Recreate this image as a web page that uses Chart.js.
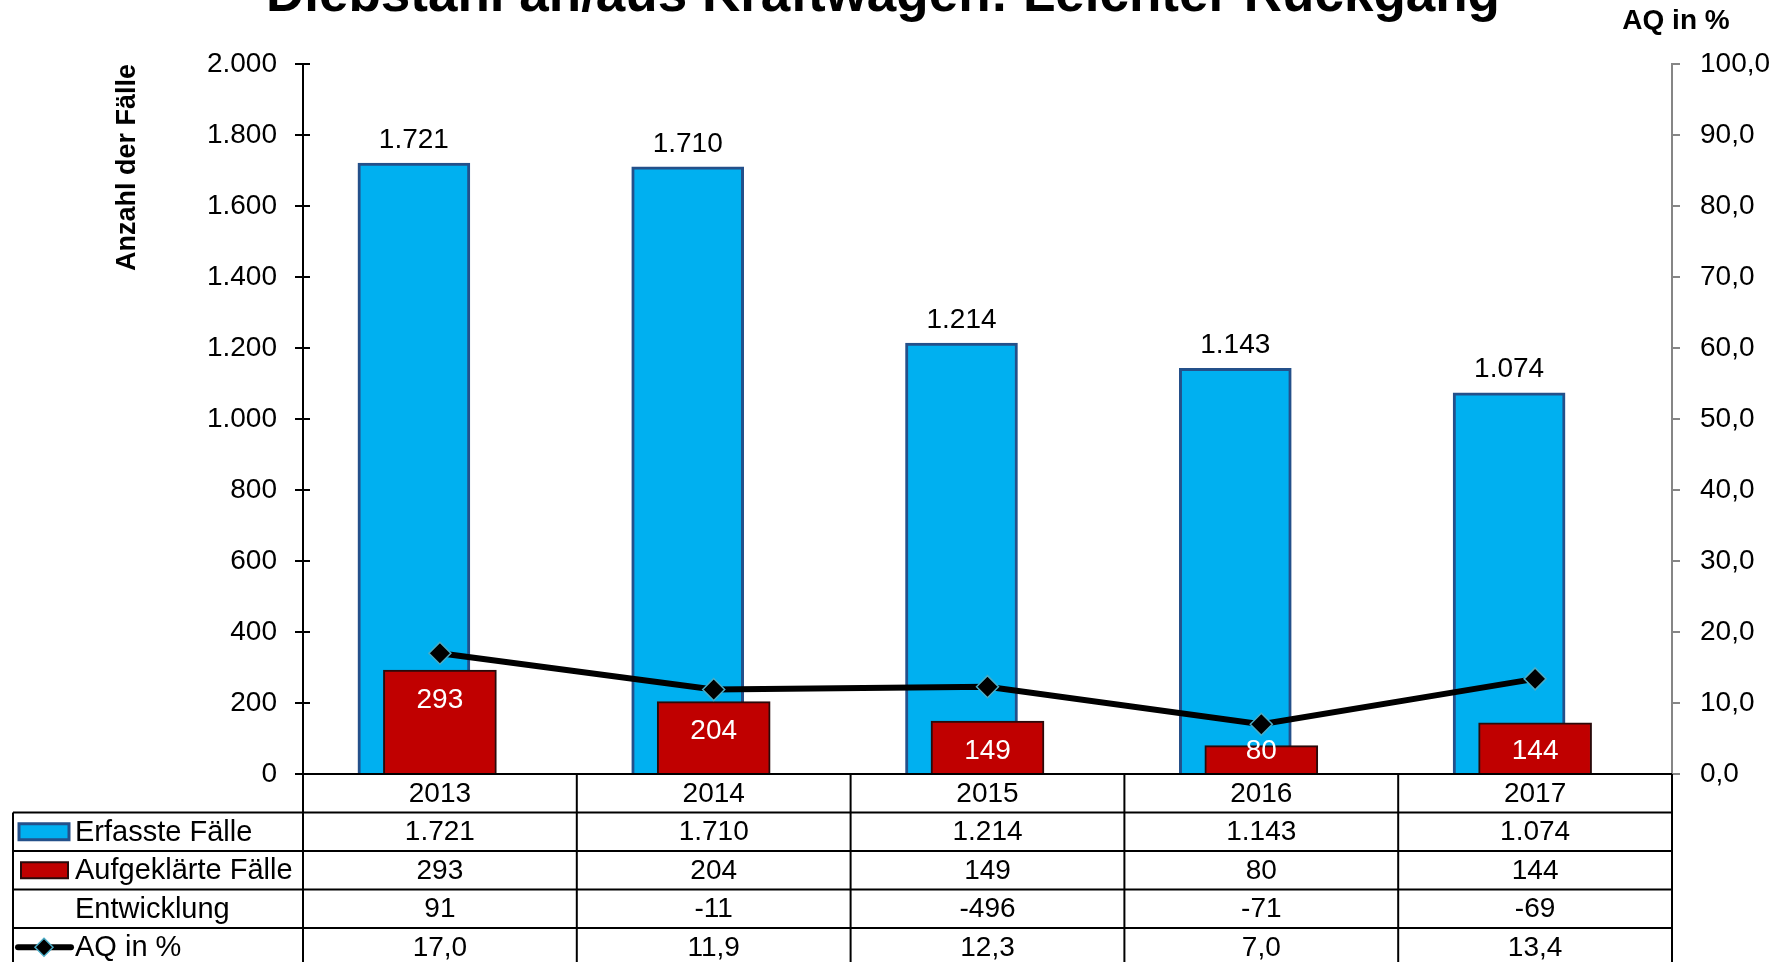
<!DOCTYPE html>
<html>
<head>
<meta charset="utf-8">
<script src="https://cdn.jsdelivr.net/npm/chart.js@4/dist/chart.umd.min.js"></script>
<style>
  html, body { margin: 0; padding: 0; background: #fff; overflow: hidden; }
  canvas { display: block; }
</style>
</head>
<body>
<canvas id="c" width="1787" height="962"></canvas>
<script>
// ---- data ----
const chartTitle = 'Diebstahl an/aus Kraftwagen: Leichter Rückgang';
const categories = ['2013', '2014', '2015', '2016', '2017'];
const erfassteFaelle = [1721, 1710, 1214, 1143, 1074];
const aufgeklaerteFaelle = [293, 204, 149, 80, 144];
const entwicklung = [91, -11, -496, -71, -69];
const aqProzent = [17.0, 11.9, 12.3, 7.0, 13.4];
const rowLabels = ['Erfasste Fälle', 'Aufgeklärte Fälle', 'Entwicklung', 'AQ in %'];
const leftAxisTitle = 'Anzahl der Fälle';
const rightAxisTitle = 'AQ in %';

// ---- helpers ----
const FONT = '"Liberation Sans", Arial, sans-serif';
function fmtInt(n) {
  const s = String(Math.abs(Math.round(n))).replace(/\B(?=(\d{3})+(?!\d))/g, '.');
  return (n < 0 ? '-' : '') + s;
}
function fmtPct(v) { return Number(v).toFixed(1).replace('.', ','); }

const BLUE = '#00B0F0', BLUE_EDGE = '#24508A';
const RED = '#C00000', RED_EDGE = '#2a0a0a';
const DIAMOND_EDGE = '#4BACC6';
// blue columns sit slightly left of the category centre (overlapped columns)
const BLUE_SHIFT = 0.095; // fraction of a category width

const textPlugin = {
  id: 'texts',
  afterDraw(chart) {
    const ctx = chart.ctx;
    ctx.save();
    ctx.fillStyle = '#000';
    ctx.textAlign = 'center';
    ctx.textBaseline = 'alphabetic';
    ctx.font = 'bold 53px ' + FONT;
    ctx.fillText(chartTitle, 883, 11);
    ctx.font = 'bold 28px ' + FONT;
    ctx.textBaseline = 'middle';
    ctx.fillText(rightAxisTitle, 1676, 21);
    ctx.restore();
  }
};

const labelPlugin = {
  id: 'barLabels',
  afterDatasetsDraw(chart) {
    const ctx = chart.ctx;
    ctx.save();
    ctx.font = '28px ' + FONT;
    ctx.textAlign = 'center';
    ctx.textBaseline = 'middle';
    const mb = chart.getDatasetMeta(0);
    mb.data.forEach((el, i) => {
      ctx.fillStyle = '#000';
      ctx.fillText(fmtInt(erfassteFaelle[i]), el.x, el.y - 23);
    });
    const mr = chart.getDatasetMeta(1);
    mr.data.forEach((el, i) => {
      ctx.fillStyle = '#fff';
      const y = Math.min(el.y + 30, el.base - 22);
      ctx.fillText(fmtInt(aufgeklaerteFaelle[i]), el.x, y);
    });
    ctx.restore();
  }
};

function drawDiamond(ctx, x, y, r) {
  ctx.beginPath();
  ctx.moveTo(x, y - r); ctx.lineTo(x + r, y); ctx.lineTo(x, y + r); ctx.lineTo(x - r, y);
  ctx.closePath();
  ctx.fillStyle = '#000'; ctx.fill();
  ctx.strokeStyle = DIAMOND_EDGE; ctx.lineWidth = 1.5; ctx.stroke();
}

const tablePlugin = {
  id: 'dataTable',
  afterDraw(chart) {
    const ctx = chart.ctx;
    const ca = chart.chartArea;
    const xs = chart.scales.x;
    const ys = chart.scales.y;
    const n = categories.length;
    const colW = (ca.right - ca.left) / n;
    const rowH = 38.5;
    const top = ca.bottom;
    const labelLeft = 13;
    const rows = [
      erfassteFaelle.map(fmtInt),
      aufgeklaerteFaelle.map(fmtInt),
      entwicklung.map(fmtInt),
      aqProzent.map(fmtPct)
    ];
    const nRows = rows.length + 1;
    const bottom = top + nRows * rowH;
    ctx.save();
    ctx.strokeStyle = '#000';
    ctx.lineWidth = 2;
    const line = (x1, y1, x2, y2) => { ctx.beginPath(); ctx.moveTo(x1, y1); ctx.lineTo(x2, y2); ctx.stroke(); };
    // inner half of the left axis tick marks (they cross the axis)
    ys.ticks.forEach((t, i) => {
      const y = Math.round(ys.getPixelForTick(i));
      line(ca.left, y, ca.left + 7, y);
    });
    line(ca.left, top, ca.right, top);
    for (let r = 1; r <= nRows; r++) line(labelLeft, top + r * rowH, ca.right, top + r * rowH);
    line(labelLeft, top + rowH, labelLeft, bottom);
    for (let c = 0; c <= n; c++) line(ca.left + c * colW, top, ca.left + c * colW, bottom);

    ctx.fillStyle = '#000';
    ctx.font = '28px ' + FONT;
    ctx.textAlign = 'center';
    ctx.textBaseline = 'middle';
    categories.forEach((cat, i) => ctx.fillText(cat, xs.getPixelForValue(i), top + rowH / 2 + 1));
    rows.forEach((vals, r) => {
      const yc = top + (r + 1.5) * rowH + 1;
      ctx.textAlign = 'center';
      ctx.font = '28px ' + FONT;
      ctx.fillStyle = '#000';
      vals.forEach((v, i) => ctx.fillText(v, xs.getPixelForValue(i), yc));
      ctx.textAlign = 'left';
      ctx.font = '29px ' + FONT;
      ctx.fillText(rowLabels[r], 75, yc);
    });
    // legend keys
    let yc = top + 1.5 * rowH;
    ctx.fillStyle = BLUE; ctx.fillRect(19, yc - 8, 50, 16);
    ctx.strokeStyle = BLUE_EDGE; ctx.lineWidth = 3; ctx.strokeRect(19, yc - 8, 50, 16);
    yc = top + 2.5 * rowH;
    ctx.fillStyle = RED; ctx.fillRect(21, yc - 8, 47, 16);
    ctx.strokeStyle = RED_EDGE; ctx.lineWidth = 2; ctx.strokeRect(21, yc - 8, 47, 16);
    yc = top + 4.5 * rowH;
    ctx.strokeStyle = '#000'; ctx.lineWidth = 6; ctx.lineCap = 'round';
    line(18, yc, 71, yc);
    drawDiamond(ctx, 44, yc, 9);
    ctx.restore();
  }
};

const firstYear = Number(categories[0]);
const lastYear = Number(categories[categories.length - 1]);

new Chart(document.getElementById('c'), {
  data: {
    labels: categories,
    datasets: [
      {
        type: 'bar', label: rowLabels[0],
        data: categories.map((c, i) => ({ x: Number(c), y: erfassteFaelle[i] })),
        xAxisID: 'xb', yAxisID: 'y', order: 2, grouped: false,
        backgroundColor: BLUE, borderColor: BLUE_EDGE, borderWidth: 3,
        barThickness: 112
      },
      {
        type: 'bar', label: rowLabels[1], data: aufgeklaerteFaelle,
        xAxisID: 'x', yAxisID: 'y', order: 1, grouped: false,
        backgroundColor: RED, borderColor: RED_EDGE, borderWidth: 2,
        barThickness: 113
      },
      {
        type: 'line', label: rowLabels[3], data: aqProzent,
        xAxisID: 'x', yAxisID: 'y2', order: 0,
        borderColor: '#000', borderWidth: 6, tension: 0,
        pointStyle: 'rectRot', pointRadius: 11, pointHoverRadius: 11,
        pointBackgroundColor: '#000', pointBorderColor: DIAMOND_EDGE, pointBorderWidth: 1.5
      }
    ]
  },
  options: {
    responsive: false,
    devicePixelRatio: 1,
    animation: false,
    events: [],
    layout: { padding: { top: 64, bottom: 188, left: 0, right: 0 } },
    plugins: { legend: { display: false }, tooltip: { enabled: false }, title: { display: false } },
    scales: {
      x: { type: 'category', labels: categories, display: false, offset: true },
      xb: { type: 'linear', display: false, offset: false, bounds: 'data',
            grid: { offset: false },
            min: firstYear - 0.5 + BLUE_SHIFT, max: lastYear + 0.5 + BLUE_SHIFT },
      y: {
        position: 'left', min: 0, max: 2000,
        ticks: { stepSize: 200, color: '#000', padding: 18, font: { family: FONT, size: 28 },
                 callback: (v) => fmtInt(v) },
        grid: { drawOnChartArea: false, color: '#000', lineWidth: 2, tickLength: 8 },
        border: { color: '#000', width: 2 },
        title: { display: true, text: leftAxisTitle, align: 'end', color: '#000',
                 font: { family: FONT, size: 27, weight: 'bold' }, padding: { top: 111, bottom: 0 } },
        afterFit: (s) => { s.width = 303; }
      },
      y2: {
        position: 'right', min: 0, max: 100,
        ticks: { stepSize: 10, color: '#000', padding: 20, font: { family: FONT, size: 28 },
                 callback: (v) => fmtPct(v) },
        grid: { drawOnChartArea: false, color: '#868686', lineWidth: 2, tickLength: 8 },
        border: { color: '#868686', width: 2 },
        afterFit: (s) => { s.width = 115; }
      }
    }
  },
  plugins: [labelPlugin, tablePlugin, textPlugin]
});
</script>
</body>
</html>
